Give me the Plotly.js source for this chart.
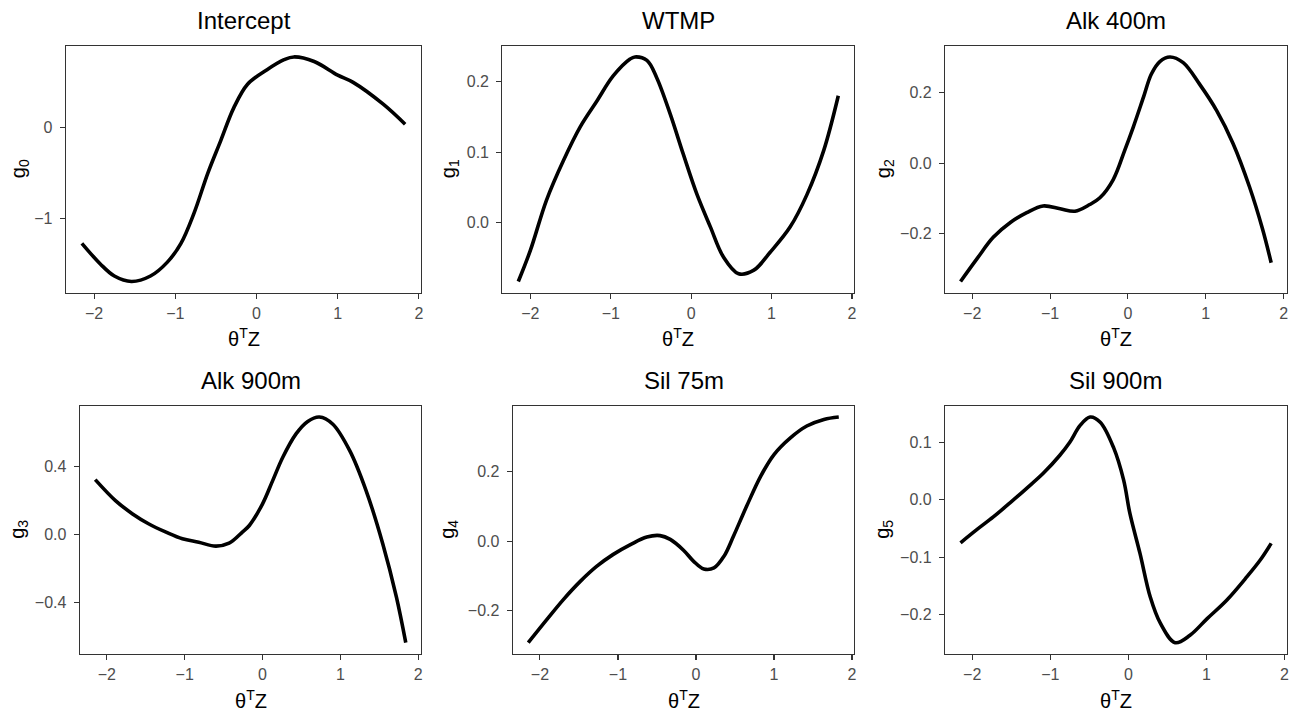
<!DOCTYPE html>
<html>
<head>
<meta charset="utf-8">
<script src="https://cdn.plot.ly/plotly-3.0.1.min.js"></script>
<style>html,body{margin:0;padding:0;background:#fff;}#chart{width:1300px;height:711px;}</style>
</head>
<body>
<div id="chart"></div>
<script>
// ---- data ----
const panelTitles = ["Intercept", "WTMP", "Alk 400m", "Alk 900m", "Sil 75m", "Sil 900m"];
const yTitles = ["g<sub>0</sub>", "g<sub>1</sub>", "g<sub>2</sub>", "g<sub>3</sub>", "g<sub>4</sub>", "g<sub>5</sub>"];
const xTitle = "θ<sup>T</sup>Z";

const x0 = [-2.15,-1.92,-1.75,-1.54,-1.305,-1.10,-0.93,-0.77,-0.60,-0.44,-0.28,-0.11,0.13,0.34,0.46,0.71,1.0,1.19,1.56,1.83];
const y0 = [-1.27,-1.50,-1.63,-1.69,-1.63,-1.48,-1.27,-0.94,-0.50,-0.14,0.22,0.48,0.64,0.75,0.78,0.73,0.58,0.50,0.26,0.04];

const x1 = [-2.15,-2.0,-1.80,-1.59,-1.38,-1.17,-0.97,-0.76,-0.70,-0.55,-0.43,-0.26,-0.10,0.07,0.24,0.40,0.59,0.78,0.98,1.23,1.44,1.65,1.83];
const y1 = [-0.083,-0.039,0.032,0.088,0.136,0.173,0.208,0.232,0.235,0.230,0.206,0.154,0.098,0.041,-0.006,-0.048,-0.072,-0.067,-0.042,-0.006,0.040,0.103,0.180];

const x2 = [-2.15,-1.94,-1.73,-1.51,-1.30,-1.09,-0.87,-0.68,-0.49,-0.36,-0.19,-0.04,0.07,0.20,0.30,0.41,0.54,0.71,0.92,1.14,1.35,1.56,1.73,1.84];
const y2 = [-0.335,-0.271,-0.210,-0.168,-0.140,-0.121,-0.129,-0.136,-0.117,-0.098,-0.047,0.037,0.103,0.187,0.252,0.288,0.301,0.285,0.224,0.149,0.056,-0.066,-0.187,-0.282];

const x3 = [-2.15,-1.89,-1.67,-1.46,-1.24,-1.03,-0.82,-0.60,-0.43,-0.26,-0.17,0.0,0.13,0.26,0.43,0.58,0.73,0.90,1.12,1.33,1.545,1.72,1.84];
const y3 = [0.322,0.199,0.121,0.062,0.014,-0.025,-0.045,-0.068,-0.051,0.014,0.053,0.180,0.316,0.453,0.590,0.663,0.689,0.648,0.492,0.258,-0.055,-0.367,-0.634];

const x4 = [-2.15,-1.91,-1.70,-1.48,-1.27,-1.06,-0.84,-0.63,-0.46,-0.33,-0.16,-0.03,0.10,0.23,0.36,0.48,0.65,0.83,1.00,1.21,1.42,1.64,1.83];
const y4 = [-0.292,-0.225,-0.168,-0.115,-0.072,-0.038,-0.010,0.012,0.016,0.005,-0.026,-0.058,-0.080,-0.077,-0.043,0.014,0.101,0.187,0.249,0.297,0.331,0.350,0.357];

const x5 = [-2.15,-1.95,-1.73,-1.52,-1.31,-1.09,-0.88,-0.75,-0.62,-0.49,-0.36,-0.19,-0.06,0.02,0.15,0.28,0.41,0.60,0.79,1.01,1.26,1.52,1.69,1.83];
const y5 = [-0.075,-0.053,-0.030,-0.006,0.019,0.046,0.077,0.100,0.129,0.144,0.135,0.091,0.034,-0.024,-0.094,-0.169,-0.215,-0.249,-0.236,-0.207,-0.175,-0.134,-0.105,-0.076];

const xs = [x0, x1, x2, x3, x4, x5];
const ys = [y0, y1, y2, y3, y4, y5];
const yDticks = [1, 0.1, 0.2, 0.4, 0.2, 0.1];
const yFormats = ["d", ".1f", ".1f", ".1f", ".1f", ".1f"];

// ---- layout geometry (pixels) ----
const W = 1300, H = 711;
const boxes = [
  {l: 65.7,  r: 421.3,  t: 45.7,  b: 292.7},
  {l: 502.3, r: 854.3,  t: 45.7,  b: 292.7},
  {l: 945.0, r: 1286.7, t: 45.7,  b: 292.7},
  {l: 79.7,  r: 421.3,  t: 405.7, b: 654.0},
  {l: 512.7, r: 854.3,  t: 405.7, b: 654.0},
  {l: 945.0, r: 1286.7, t: 405.7, b: 654.0}
];
const yTitleX = [19, 449, 884, 19, 449, 884];
const FONT = "Liberation Sans, Arial, Helvetica, sans-serif";

function expand(arr) {
  const mn = Math.min(...arr), mx = Math.max(...arr), d = mx - mn;
  return [mn - 0.05 * d, mx + 0.05 * d];
}

const data = [];
const layout = {
  width: W, height: H,
  margin: {l: 0, r: 0, t: 0, b: 0},
  paper_bgcolor: "#ffffff", plot_bgcolor: "#ffffff",
  showlegend: false,
  font: {family: FONT, color: "#000000"},
  annotations: []
};

const axisBase = {
  showline: true, mirror: true, linecolor: "#333333", linewidth: 1.1,
  ticks: "outside", ticklen: 5, tickwidth: 1.1, tickcolor: "#333333",
  showgrid: false, zeroline: false,
  tickfont: {family: FONT, size: 16, color: "#4D4D4D"},
  fixedrange: true
};

for (let i = 0; i < 6; i++) {
  const k = i === 0 ? "" : String(i + 1);
  const b = boxes[i];
  data.push({
    type: "scatter", mode: "lines",
    x: xs[i], y: ys[i],
    xaxis: "x" + k, yaxis: "y" + k,
    line: {color: "#000000", width: 3.6, shape: "spline", smoothing: 1},
    hoverinfo: "skip"
  });
  layout["xaxis" + k] = Object.assign({}, axisBase, {
    domain: [b.l / W, b.r / W],
    anchor: "y" + k,
    range: expand(xs[i]),
    tick0: 0, dtick: 1, tickformat: "d",
    ticklabelstandoff: 1
  });
  layout["yaxis" + k] = Object.assign({}, axisBase, {
    domain: [1 - b.b / H, 1 - b.t / H],
    anchor: "x" + k,
    range: expand(ys[i]),
    tick0: 0, dtick: yDticks[i], tickformat: yFormats[i],
    ticklabelstandoff: 4
  });
  const cx = (b.l + b.r) / 2;
  const cy = (b.t + b.b) / 2;
  // panel title
  layout.annotations.push({
    text: panelTitles[i], xref: "paper", yref: "paper",
    x: cx / W, y: 1 - (b.t - 25.5) / H, xanchor: "center", yanchor: "middle",
    showarrow: false, font: {family: FONT, size: 24, color: "#000000"}
  });
  // x title
  layout.annotations.push({
    text: xTitle, xref: "paper", yref: "paper",
    x: cx / W, y: 1 - (b.b + 45) / H, xanchor: "center", yanchor: "middle",
    showarrow: false, font: {family: FONT, size: 20, color: "#000000"}
  });
  // y title
  layout.annotations.push({
    text: yTitles[i], xref: "paper", yref: "paper",
    x: yTitleX[i] / W, y: 1 - cy / H, xanchor: "center", yanchor: "middle",
    textangle: -90,
    showarrow: false, font: {family: FONT, size: 20, color: "#000000"}
  });
}

Plotly.newPlot("chart", data, layout, {displayModeBar: false, staticPlot: true});
</script>
</body>
</html>
